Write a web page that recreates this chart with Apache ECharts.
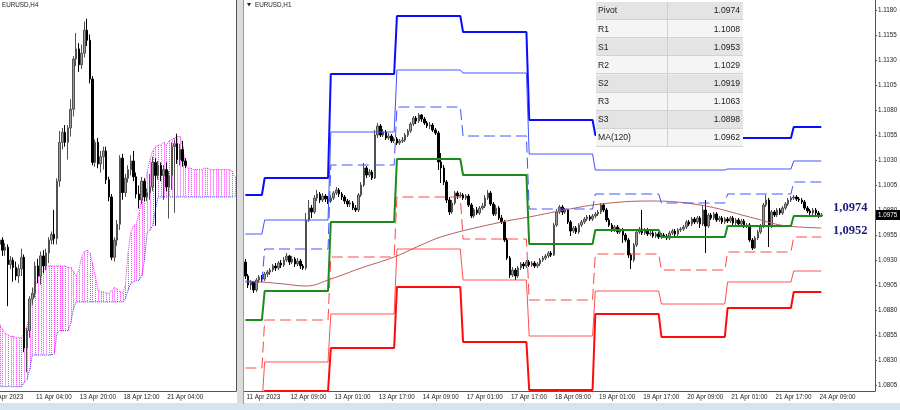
<!DOCTYPE html>
<html><head><meta charset="utf-8">
<script src="https://cdn.jsdelivr.net/npm/echarts@6/dist/echarts.min.js"></script>
<style>html,body{margin:0;padding:0;background:#fff}#c{width:900px;height:410px}</style>
</head><body><div id="c"></div>
<script>
// ---------- Right panel: EURUSD H1 ----------
const h1Days = ['11 Apr','12 Apr','13 Apr','14 Apr','17 Apr','18 Apr','19 Apr','20 Apr','21 Apr','24 Apr'];
const h1DayFirstHour = [17,0,0,0,0,0,0,0,0,0];
const h1DayLastHour = [23,23,23,23,23,23,23,23,23,10];
const h1EmptySlots = 19;
const h1TickLabels = ['11 Apr 2023','12 Apr 09:00','13 Apr 01:00','13 Apr 17:00','14 Apr 09:00','17 Apr 01:00','17 Apr 17:00','18 Apr 09:00','19 Apr 01:00','19 Apr 17:00','20 Apr 09:00','21 Apr 01:00','21 Apr 17:00','24 Apr 09:00'];
const h1TickEvery = 16;
const priceTicks = [1.0805,1.0830,1.0855,1.0880,1.0905,1.0930,1.0955,1.0980,1.1005,1.1030,1.1055,1.1080,1.1105,1.1130,1.1155,1.1180];

const h1Open = [1.0928,1.0914,1.0905,1.0908,1.0900,1.0910,1.0913,1.0911,1.0916,1.0918,
1.0920,1.0924,1.0922,1.0927,1.0925,1.0930,1.0934,1.0928,1.0931,1.0926,
1.0929,1.0924,1.0922,1.0970,1.0982,1.0978,1.0992,1.0996,1.0990,1.0994,
1.0991,1.0989,1.0992,1.0997,1.1000,1.0996,1.0993,1.0989,1.0986,1.0987,
1.0982,1.0980,1.0995,1.1005,1.1022,1.1015,1.1018,1.1012,1.1055,1.1064,
1.1055,1.1058,1.1052,1.1054,1.1049,1.1051,1.1047,1.1049,1.1050,1.1055,
1.1059,1.1066,1.1072,1.1069,1.1075,1.1071,1.1067,1.1064,1.1065,1.1060,
1.1057,1.1028,1.1022,1.1008,1.0990,1.0978,1.0987,1.0997,1.0994,1.0995,
1.0992,1.0994,1.0985,1.0974,1.0980,1.0977,1.0982,1.0984,1.0992,1.0997,
1.0986,1.0976,1.0982,1.0972,1.0968,1.0950,1.0932,1.0915,1.0920,1.0914,
1.0922,1.0926,1.0924,1.0928,1.0925,1.0927,1.0924,1.0926,1.0930,1.0932,
1.0934,1.0937,1.0935,1.0965,1.0978,1.0983,1.0978,1.0980,1.0968,1.0959,
1.0962,1.0958,1.0965,1.0968,1.0971,1.0973,1.0971,1.0974,1.0976,1.0978,
1.0985,1.0980,1.0970,1.0965,1.0960,1.0963,1.0958,1.0960,1.0955,1.0950,
1.0935,1.0930,1.0945,1.0958,1.0961,1.0957,1.0960,1.0956,1.0957,1.0954,
1.0956,1.0953,1.0955,1.0954,1.0952,1.0957,1.0959,1.0956,1.0960,1.0961,
1.0963,1.0968,1.0966,1.0971,1.0968,1.0972,1.0966,1.0980,1.0964,1.0975,
1.0972,1.0976,1.0970,1.0972,1.0968,1.0971,1.0969,1.0972,1.0967,1.0970,
1.0966,1.0969,1.0964,1.0965,1.0950,1.0942,1.0952,1.0958,1.0964,1.0985,
1.0990,1.0964,1.0978,1.0975,1.0980,1.0977,1.0982,1.0986,1.0990,1.0992,
1.0993,1.0991,1.0990,1.0988,1.0982,1.0979,1.0977,1.0980,1.0977,1.0974];
const h1Close = [1.0914,1.0905,1.0908,1.0900,1.0910,1.0913,1.0911,1.0916,1.0918,1.0920,
1.0924,1.0922,1.0927,1.0925,1.0930,1.0934,1.0928,1.0931,1.0926,1.0929,
1.0924,1.0922,1.0970,1.0982,1.0978,1.0992,1.0996,1.0990,1.0994,1.0991,
1.0989,1.0992,1.0997,1.1000,1.0996,1.0993,1.0989,1.0986,1.0987,1.0982,
1.0980,1.0995,1.1005,1.1022,1.1015,1.1018,1.1012,1.1055,1.1064,1.1055,
1.1058,1.1052,1.1054,1.1049,1.1051,1.1047,1.1049,1.1050,1.1055,1.1059,
1.1066,1.1072,1.1069,1.1075,1.1071,1.1067,1.1064,1.1065,1.1060,1.1057,
1.1028,1.1022,1.1008,1.0990,1.0978,1.0987,1.0997,1.0994,1.0995,1.0992,
1.0994,1.0985,1.0974,1.0980,1.0977,1.0982,1.0984,1.0992,1.0997,1.0986,
1.0976,1.0982,1.0972,1.0968,1.0950,1.0932,1.0915,1.0920,1.0914,1.0922,
1.0926,1.0924,1.0928,1.0925,1.0927,1.0924,1.0926,1.0930,1.0932,1.0934,
1.0937,1.0935,1.0965,1.0978,1.0983,1.0978,1.0980,1.0968,1.0959,1.0962,
1.0958,1.0965,1.0968,1.0971,1.0973,1.0971,1.0974,1.0976,1.0978,1.0985,
1.0980,1.0970,1.0965,1.0960,1.0963,1.0958,1.0960,1.0955,1.0950,1.0935,
1.0930,1.0945,1.0958,1.0961,1.0957,1.0960,1.0956,1.0957,1.0954,1.0956,
1.0953,1.0955,1.0954,1.0952,1.0957,1.0959,1.0956,1.0960,1.0961,1.0963,
1.0968,1.0966,1.0971,1.0968,1.0972,1.0966,1.0980,1.0964,1.0975,1.0972,
1.0976,1.0970,1.0972,1.0968,1.0971,1.0969,1.0972,1.0967,1.0970,1.0966,
1.0969,1.0964,1.0965,1.0950,1.0942,1.0952,1.0958,1.0964,1.0985,1.0990,
1.0964,1.0978,1.0975,1.0980,1.0977,1.0982,1.0986,1.0990,1.0992,1.0993,
1.0991,1.0990,1.0988,1.0982,1.0979,1.0977,1.0980,1.0977,1.0974,1.0975];
const h1High = [1.0931,1.0916,1.0910,1.0909,1.0912,1.0915,1.0915,1.0918,1.0920,1.0922,
1.0926,1.0927,1.0929,1.0930,1.0933,1.0937,1.0935,1.0934,1.0933,1.0932,
1.0931,1.0926,1.0977,1.0990,1.0985,1.0995,1.1000,1.0998,1.0997,1.0996,
1.0994,1.0995,1.0999,1.1003,1.1002,1.0998,1.0995,1.0991,1.0990,1.0989,
1.0985,1.0997,1.1008,1.1027,1.1024,1.1021,1.1020,1.1060,1.1067,1.1066,
1.1061,1.1060,1.1057,1.1056,1.1053,1.1053,1.1051,1.1053,1.1057,1.1061,
1.1068,1.1074,1.1074,1.1077,1.1076,1.1073,1.1069,1.1068,1.1067,1.1062,
1.1059,1.1037,1.1025,1.1010,1.0993,1.0990,1.0999,1.0999,1.0998,1.0997,
1.0996,1.0996,1.0987,1.0982,1.0983,1.0984,1.0987,1.0995,1.1000,1.0999,
1.0988,1.0985,1.0984,1.0975,1.0970,1.0952,1.0934,1.0923,1.0922,1.0924,
1.0928,1.0928,1.0930,1.0930,1.0929,1.0929,1.0928,1.0932,1.0934,1.0936,
1.0939,1.0939,1.0967,1.0981,1.0985,1.0985,1.0982,1.0981,1.0970,1.0964,
1.0964,1.0967,1.0970,1.0973,1.0975,1.0975,1.0976,1.0978,1.0980,1.0987,
1.0987,1.0982,1.0972,1.0967,1.0965,1.0965,1.0962,1.0962,1.0957,1.0952,
1.0937,1.0947,1.0960,1.0963,1.0980,1.0962,1.0962,1.0959,1.0959,1.0958,
1.0958,1.0957,1.0957,1.0956,1.0959,1.0961,1.0961,1.0962,1.0963,1.0965,
1.0970,1.0970,1.0973,1.0973,1.0974,1.0974,1.0985,1.0990,1.0977,1.0977,
1.0978,1.0978,1.0974,1.0974,1.0973,1.0973,1.0974,1.0974,1.0972,1.0972,
1.0971,1.0971,1.0967,1.0967,1.0952,1.0954,1.0960,1.0966,1.0987,1.0995,
1.0992,1.0980,1.0980,1.0982,1.0982,1.0984,1.0988,1.0992,1.0994,1.0995,
1.0995,1.0993,1.0992,1.0990,1.0984,1.0981,1.0982,1.0982,1.0979,1.0977];
const h1Low = [1.0911,1.0902,1.0900,1.0897,1.0898,1.0907,1.0908,1.0909,1.0913,1.0915,
1.0918,1.0919,1.0920,1.0922,1.0923,1.0928,1.0925,1.0926,1.0923,1.0924,
1.0921,1.0920,1.0920,1.0968,1.0972,1.0976,1.0989,1.0987,1.0988,1.0988,
1.0986,1.0987,1.0990,1.0995,1.0993,1.0990,1.0986,1.0983,1.0983,1.0980,
1.0978,1.0978,1.0993,1.1003,1.1012,1.1013,1.1010,1.1011,1.1052,1.1053,
1.1053,1.1050,1.1050,1.1047,1.1047,1.1045,1.1045,1.1047,1.1048,1.1053,
1.1057,1.1064,1.1066,1.1067,1.1068,1.1065,1.1062,1.1061,1.1058,1.1055,
1.1020,1.1007,1.1005,1.0987,1.0975,1.0976,1.0985,1.0991,1.0992,1.0990,
1.0990,1.0983,1.0972,1.0972,1.0975,1.0975,1.0980,1.0982,1.0990,1.0984,
1.0974,1.0974,1.0970,1.0966,1.0948,1.0930,1.0912,1.0913,1.0910,1.0912,
1.0920,1.0921,1.0922,1.0923,1.0923,1.0922,1.0922,1.0924,1.0928,1.0930,
1.0932,1.0933,1.0934,1.0963,1.0976,1.0975,1.0976,1.0966,1.0954,1.0957,
1.0956,1.0956,1.0963,1.0966,1.0969,1.0969,1.0969,1.0972,1.0974,1.0976,
1.0978,1.0968,1.0963,1.0958,1.0958,1.0956,1.0956,1.0947,1.0948,1.0932,
1.0921,1.0928,1.0943,1.0956,1.0955,1.0955,1.0954,1.0954,1.0952,1.0952,
1.0951,1.0951,1.0952,1.0950,1.0950,1.0955,1.0954,1.0954,1.0958,1.0959,
1.0961,1.0964,1.0964,1.0966,1.0966,1.0962,1.0964,1.0937,1.0962,1.0970,
1.0970,1.0968,1.0968,1.0966,1.0966,1.0967,1.0967,1.0965,1.0965,1.0964,
1.0964,1.0962,1.0962,1.0948,1.0940,1.0941,1.0950,1.0956,1.0962,1.0983,
1.0943,1.0962,1.0973,1.0973,1.0975,1.0975,1.0980,1.0984,1.0988,1.0990,
1.0989,1.0988,1.0986,1.0980,1.0977,1.0975,1.0975,1.0975,1.0972,1.0973];

// daily pivot levels (one value per day in h1Days)
const pivotR3 = [1.0995,1.1012,1.1116,1.1174,1.1158,1.1070,1.1055,1.1053,1.1052,1.1063];
const pivotR2 = [1.0956,1.0970,1.1058,1.1120,1.1117,1.1036,1.1020,1.1020,1.1021,1.1029];
const pivotR1 = [1.0908,1.0941,1.1025,1.1083,1.1054,1.0981,1.0996,1.0987,1.0996,1.1008];
const pivotP  = [1.0870,1.0899,1.0968,1.1031,1.1015,1.0946,1.0960,1.0953,1.0964,1.0974];
const pivotS1 = [1.0822,1.0870,1.0933,1.0993,1.0951,1.0890,1.0936,1.0920,1.0938,1.0953];
const pivotS2 = [1.0785,1.0828,1.0876,1.0941,1.0910,1.0854,1.0899,1.0886,1.0908,1.0919];
const pivotS3 = [1.0739,1.0799,1.0842,1.0903,1.0848,1.0800,1.0876,1.0853,1.0882,1.0898];

// MA(120) read at these bar indices
const maBar = [0,6,14,22,31,42,54,63,72,93,103,114,129,147,165,183,194,201,209];
const maVal = [1.0909,1.0908,1.0906,1.0904,1.0911,1.0922,1.0933,1.0944,1.0954,1.0968,1.0973,1.0979,1.0986,1.0989,1.0985,1.0973,1.0965,1.0963,1.0962];

const tableLabels = ['Pivot','R1','S1','R2','S2','R3','S3','MA(120)'];
const tableValues = ['1.0974','1.1008','1.0953','1.1029','1.0919','1.1063','1.0898','1.0962'];
const noteTexts = ['1,0974','1,0952'];

// ---------- Left panel: EURUSD H4 ----------
const h4Slots = 90;
const h4TickLabels = ['6 Apr 2023','11 Apr 04:00','13 Apr 20:00','18 Apr 12:00','21 Apr 04:00'];
const h4TickEvery = 16;
const h4Open = [1.0918,1.0922,1.0915,1.0920,1.0923,1.0916,1.0918,1.0906,1.0909,1.0904,
1.0898,1.0903,1.0911,1.0848,1.0860,1.0882,1.0886,1.0905,1.0898,1.0912,
1.0905,1.0914,1.0923,1.0927,1.0924,1.0964,1.0991,1.0998,1.0991,1.1001,
1.1014,1.1049,1.1056,1.1045,1.1053,1.1069,1.1062,1.1035,1.0977,1.0991,
1.0976,1.0981,1.0985,1.0965,1.0953,1.0911,1.0923,1.0934,1.0980,1.0956,
1.0966,1.0972,1.0978,1.0967,1.0955,1.0951,1.0964,1.0953,1.0956,1.0960,
1.0977,1.0968,1.0975,1.0968,1.0972,1.0960,1.0968,1.0988,1.0990,1.0979,
1.0986,1.0978];
const h4Close = [1.0922,1.0915,1.0920,1.0923,1.0916,1.0918,1.0906,1.0909,1.0904,1.0898,
1.0903,1.0911,1.0848,1.0860,1.0882,1.0886,1.0905,1.0898,1.0912,1.0905,
1.0914,1.0923,1.0927,1.0924,1.0964,1.0991,1.0998,1.0991,1.1001,1.1014,
1.1049,1.1056,1.1045,1.1053,1.1069,1.1062,1.1035,1.0977,1.0991,1.0976,
1.0981,1.0985,1.0965,1.0953,1.0911,1.0923,1.0934,1.0980,1.0956,1.0966,
1.0972,1.0978,1.0967,1.0955,1.0951,1.0964,1.0953,1.0956,1.0960,1.0977,
1.0968,1.0975,1.0968,1.0972,1.0960,1.0968,1.0988,1.0990,1.0979,1.0986,
1.0978,1.0975];
const h4Low = [1.0912,1.0910,1.0912,1.0915,1.0912,1.0912,1.0877,1.0903,1.0894,1.0895,
1.0893,1.0898,1.0845,1.0831,1.0855,1.0878,1.0883,1.0893,1.0892,1.0900,
1.0902,1.0907,1.0920,1.0920,1.0920,1.0960,1.0986,1.0988,1.0979,1.0995,
1.1009,1.1044,1.1040,1.1042,1.1050,1.1058,1.1032,1.0975,1.0974,1.0973,
1.0970,1.0972,1.0962,1.0950,1.0909,1.0908,1.0919,1.0930,1.0951,1.0953,
1.0963,1.0968,1.0964,1.0952,1.0945,1.0948,1.0950,1.0950,1.0951,1.0957,
1.0933,1.0965,1.0964,1.0951,1.0957,1.0938,1.0958,1.0942,1.0976,1.0975,
1.0974,1.0973];
const h4High = [1.0926,1.0925,1.0924,1.0927,1.0925,1.0921,1.0920,1.0912,1.0911,1.0908,
1.0906,1.0917,1.0913,1.0862,1.0884,1.0890,1.0908,1.0910,1.0915,1.0916,
1.0917,1.0925,1.0929,1.0944,1.0966,1.0999,1.1001,1.1003,1.1003,1.1021,
1.1051,1.1067,1.1060,1.1059,1.1075,1.1077,1.1066,1.1037,1.0993,1.0994,
1.0985,1.0988,1.0988,1.0967,1.0955,1.0925,1.0937,1.0982,1.0983,1.0969,
1.0975,1.0982,1.0985,1.0970,1.0961,1.0967,1.0966,1.0959,1.0969,1.0981,
1.0980,1.0978,1.0977,1.0975,1.0977,1.0971,1.0991,1.0993,1.0997,1.0990,
1.0992,1.0980];
const cloudSpanA = [1.0868,1.0866,1.0865,1.0864,1.0861,1.0858,1.0857,1.0856,1.0856,1.0855,
1.0855,1.0855,1.0858,1.0863,1.0870,1.0886,1.0891,1.0895,1.0900,1.0902,
1.0904,1.0905,1.0905,1.0905,1.0905,1.0905,1.0905,1.0905,1.0904,1.0904,
1.0901,1.0898,1.0902,1.0911,1.0915,1.0916,1.0914,1.0907,1.0898,1.0888,
1.0887,1.0887,1.0886,1.0886,1.0888,1.0890,1.0889,1.0887,1.0886,1.0891,
1.0914,1.0928,1.0933,1.0934,1.0942,1.0951,1.0960,1.0970,1.0979,1.0985,
1.0988,1.0989,1.0989,1.0991,1.0989,1.0992,1.0993,1.0994,1.0995,1.0995,
1.0988,1.0975,1.0973,1.0973,1.0972,1.0972,1.0972,1.0972,1.0973,1.0973,
1.0972,1.0972,1.0972,1.0972,1.0972,1.0972,1.0972,1.0972,1.0971,1.0967];
const cloudSpanB = [1.0821,1.0821,1.0821,1.0821,1.0821,1.0821,1.0821,1.0821,1.0821,1.0821,
1.0821,1.0821,1.0824,1.0826,1.0833,1.0843,1.0843,1.0843,1.0843,1.0843,
1.0843,1.0843,1.0843,1.0844,1.0858,1.0860,1.0860,1.0860,1.0860,1.0865,
1.0875,1.0880,1.0880,1.0880,1.0880,1.0880,1.0880,1.0880,1.0880,1.0880,
1.0880,1.0880,1.0880,1.0880,1.0880,1.0880,1.0880,1.0880,1.0880,1.0882,
1.0888,1.0893,1.0894,1.0895,1.0895,1.0898,1.0909,1.0928,1.0930,1.0933,
1.0944,1.0953,1.0953,1.0953,1.0953,1.0953,1.0953,1.0953,1.0953,1.0953,
1.0953,1.0953,1.0953,1.0953,1.0953,1.0953,1.0953,1.0953,1.0953,1.0953,
1.0953,1.0953,1.0953,1.0953,1.0953,1.0953,1.0953,1.0953,1.0953,1.0953];

// ---------- build ----------
const h1Cats = [], h1DayOf = [];
h1Days.forEach((d, di) => {
  for (let h = h1DayFirstHour[di]; h <= h1DayLastHour[di]; h++) {
    h1Cats.push(d + ' ' + String(h).padStart(2, '0') + ':00');
    h1DayOf.push(di);
  }
});
const nH1 = h1Cats.length;
for (let e = 0; e < h1EmptySlots; e++) h1Cats.push('+' + e);
const h4Cats = [];
for (let k = 0; k < h4Slots; k++) h4Cats.push('k' + k);

const h1Candles = h1Open.map((o, i) => [o, h1Close[i], h1Low[i], h1High[i]]);
const h4Candles = h4Open.map((o, i) => [o, h4Close[i], h4Low[i], h4High[i]]);
const perBar = lv => h1DayOf.map(d => lv[d]);

const FONT = 'Liberation Sans';
const AX = '#555';
const labelStyle = {fontSize: 6.3, color: '#222', fontFamily: FONT};

const h1Show = i => i % h1TickEvery === 0 && i < nH1;
const h4Show = i => i % h4TickEvery === 0 && i < h4Open.length;

function lineS(data, color, width, type, z) {
  return {type: 'line', xAxisIndex: 1, yAxisIndex: 1, data, symbol: 'none', z: z || 5,
    lineStyle: {color, width, type: type || 'solid', cap: 'butt'}, silent: true};
}

const candleStyle = {color: '#9c9c9c', color0: '#000000', borderColor: '#505050', borderColor0: '#000000', borderWidth: 1};

const option = {
  animation: false,
  backgroundColor: '#ffffff',
  grid: [
    {left: -10, right: 664, top: 0, height: 391, outerBoundsMode: 'none', containLabel: false},
    {left: 244, right: 25, top: 0, height: 391, outerBoundsMode: 'none', containLabel: false}
  ],
  xAxis: [
    {type: 'category', gridIndex: 0, data: h4Cats, boundaryGap: true,
      axisLine: {lineStyle: {color: AX}},
      axisTick: {alignWithLabel: true, interval: h4Show, length: 3, lineStyle: {color: AX}},
      axisLabel: Object.assign({interval: h4Show, align: 'left', margin: 3, padding: [0, 0, 0, 1],
        formatter: (v, i) => h4TickLabels[i / h4TickEvery]}, labelStyle),
      splitLine: {show: false}},
    {type: 'category', gridIndex: 1, data: h1Cats, boundaryGap: true,
      axisLine: {lineStyle: {color: AX}},
      axisTick: {alignWithLabel: true, interval: h1Show, length: 3, lineStyle: {color: AX}},
      axisLabel: Object.assign({interval: h1Show, align: 'left', margin: 3, padding: [0, 0, 0, 1],
        formatter: (v, i) => h1TickLabels[i / h1TickEvery]}, labelStyle),
      splitLine: {show: false}}
  ],
  yAxis: [
    {type: 'value', gridIndex: 0, position: 'right', min: 1.0818, max: 1.1090,
      axisLine: {show: true, lineStyle: {color: AX}}, axisTick: {show: false},
      axisLabel: {show: false}, splitLine: {show: false}},
    {type: 'value', gridIndex: 1, position: 'right', min: 1.0799, max: 1.1190,
      axisLine: {show: true, lineStyle: {color: AX}},
      axisTick: {show: true, customValues: priceTicks, length: 2, lineStyle: {color: AX}},
      axisLabel: Object.assign({customValues: priceTicks, margin: 3, formatter: v => v.toFixed(4)}, labelStyle),
      splitLine: {show: false}}
  ],
  series: [
    {type: 'custom', xAxisIndex: 0, yAxisIndex: 0, z: 1, silent: true, clip: true,
      data: cloudSpanA.map((a, k) => [k, a, cloudSpanB[k]]),
      encode: {x: 0, y: [1, 2]},
      renderItem: (params, api) => {
        const k = api.value(0);
        const p1 = api.coord([k, api.value(1)]);
        const p2 = api.coord([k, api.value(2)]);
        const x = Math.round(p1[0]) + 0.5;
        return {type: 'line', shape: {x1: x, y1: p1[1], x2: x, y2: p2[1]},
          style: {stroke: '#ff30ff', lineWidth: 1, lineDash: [1, 1]}};
      }},
    {type: 'line', xAxisIndex: 0, yAxisIndex: 0, data: cloudSpanA, symbol: 'none', z: 2, silent: true,
      lineStyle: {color: '#ff20ff', width: 1, type: 'dotted'}},
    {type: 'line', xAxisIndex: 0, yAxisIndex: 0, data: cloudSpanB, symbol: 'none', z: 2, silent: true,
      lineStyle: {color: '#3a3aff', width: 1, type: 'dotted'}},
    {type: 'candlestick', xAxisIndex: 0, yAxisIndex: 0, data: h4Candles, barWidth: 2, z: 3, silent: true,
      itemStyle: candleStyle},

    {type: 'candlestick', xAxisIndex: 1, yAxisIndex: 1, data: h1Candles, barWidth: 2, z: 3, silent: true,
      itemStyle: candleStyle},
    lineS(perBar(pivotR3), '#0b0bff', 2),
    lineS(perBar(pivotR2), '#4052ff', 1),
    lineS(perBar(pivotR1), '#4052ff', 1, [11, 5]),
    lineS(perBar(pivotP), '#1b8c1b', 2),
    lineS(perBar(pivotS1), '#ff4545', 1, [11, 5]),
    lineS(perBar(pivotS2), '#ff5050', 1),
    lineS(perBar(pivotS3), '#ff0a0a', 2),
    Object.assign(lineS(maBar.map((b, j) => [b, maVal[j]]), '#b85e5e', 1, 'solid', 4), {smooth: 0.4})
  ]
};

const chart = echarts.init(document.getElementById('c'), null, {renderer: 'canvas'});
chart.setOption(option);

// ---------- overlays ----------
const g = [];
g.push({type: 'rect', shape: {x: 237, y: 0, width: 7, height: 404}, style: {fill: '#dcdcdc'}, z: 60});
g.push({type: 'line', shape: {x1: 243.5, y1: 0, x2: 243.5, y2: 404}, style: {stroke: '#9a9a9a', lineWidth: 1}, z: 61});
g.push({type: 'rect', shape: {x: 0, y: 403, width: 900, height: 7}, style: {fill: '#d9e3ee'}, z: 60});
g.push({type: 'text', x: 2, y: 5, style: {text: 'EURUSD,H4', fontSize: 6.3, fontFamily: FONT, fill: '#222', verticalAlign: 'middle'}, z: 62});
g.push({type: 'polygon', shape: {points: [[247, 3], [251, 3], [249, 6.5]]}, style: {fill: '#222'}, z: 62});
g.push({type: 'text', x: 255, y: 5, style: {text: 'EURUSD,H1', fontSize: 6.3, fontFamily: FONT, fill: '#222', verticalAlign: 'middle'}, z: 62});
const tx = 596, tw = 147, ty = 2, rh = 18.1;
tableLabels.forEach((lab, r) => {
  const y = ty + r * rh;
  g.push({type: 'rect', shape: {x: tx, y: y, width: tw, height: rh}, style: {fill: r % 2 === 0 ? '#e4e4e4' : '#f5f5f5'}, z: 70});
  g.push({type: 'line', shape: {x1: tx, y1: Math.round(y + rh) - 0.5, x2: tx + tw, y2: Math.round(y + rh) - 0.5}, style: {stroke: '#d2d2d2', lineWidth: 1}, z: 71});
  g.push({type: 'text', x: tx + 2, y: y + rh / 2, style: {text: lab, fontSize: 8.6, fontFamily: FONT, fill: '#222', verticalAlign: 'middle'}, z: 72});
  g.push({type: 'text', x: tx + tw - 3, y: y + rh / 2, style: {text: tableValues[r], fontSize: 8.6, fontFamily: FONT, fill: '#222', align: 'right', verticalAlign: 'middle'}, z: 72});
});
g.push({type: 'line', shape: {x1: 667.5, y1: ty, x2: 667.5, y2: ty + rh * tableLabels.length}, style: {stroke: '#cfcfcf', lineWidth: 1}, z: 71});
g.push({type: 'text', x: 833, y: 208, style: {text: noteTexts[0], fontSize: 12.5, fontWeight: 'bold', fontFamily: 'Liberation Serif', fill: '#1b1b78', verticalAlign: 'middle'}, z: 72});
g.push({type: 'text', x: 833, y: 231, style: {text: noteTexts[1], fontSize: 12.5, fontWeight: 'bold', fontFamily: 'Liberation Serif', fill: '#1b1b78', verticalAlign: 'middle'}, z: 72});
const lastPrice = h1Close[nH1 - 1];
const py = chart.convertToPixel({yAxisIndex: 1}, lastPrice);
g.push({type: 'rect', shape: {x: 876, y: Math.round(py) - 5, width: 24, height: 10}, style: {fill: '#000'}, z: 80});
g.push({type: 'text', x: 878, y: Math.round(py), style: {text: lastPrice.toFixed(4), fontSize: 6.3, fontFamily: FONT, fill: '#fff', verticalAlign: 'middle'}, z: 81});
chart.setOption({graphic: g});
</script></body></html>
